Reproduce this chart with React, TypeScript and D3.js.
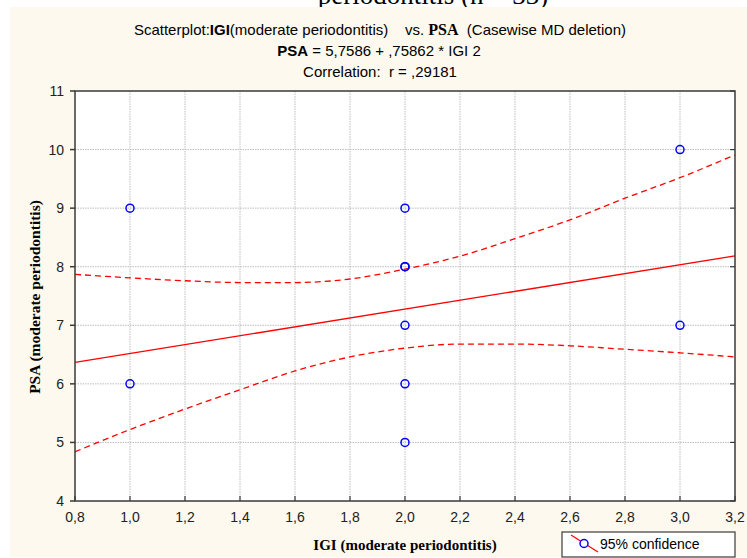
import React from "react";
import * as d3 from "d3";

// observed points (IGI, PSA)
const igi = [1, 1, 2, 2, 2, 2, 2, 2, 3, 3];
const psa = [9, 6, 9, 8, 8, 7, 6, 5, 10, 7];

// regression PSA = 5.7586 + 0.75862 * IGI
const intercept = 5.7586;
const slope = 0.75862;

// 95% confidence band
const bandX = [0.8, 1.0, 1.2, 1.4, 1.6, 1.8, 2.0, 2.2, 2.4, 2.6, 2.8, 3.0, 3.2];
const bandUpper = [7.87, 7.81, 7.76, 7.73, 7.73, 7.79, 7.96, 8.18, 8.48, 8.8, 9.17, 9.52, 9.91];
const bandLower = [4.84, 5.22, 5.57, 5.9, 6.22, 6.46, 6.61, 6.68, 6.68, 6.65, 6.59, 6.53, 6.46];

const xTicks = [0.8, 1.0, 1.2, 1.4, 1.6, 1.8, 2.0, 2.2, 2.4, 2.6, 2.8, 3.0, 3.2];
const yTicks = [4, 5, 6, 7, 8, 9, 10, 11];

const W = 747;
const H = 558;
const left = 75;
const right = 735;
const top = 91;
const bottom = 501;

const sans = "'Liberation Sans', Arial, sans-serif";
const serif = "'Liberation Serif', 'Times New Roman', serif";

export default function App() {
  const x = d3.scaleLinear().domain([0.8, 3.2]).range([left, right]);
  const y = d3.scaleLinear().domain([4, 11]).range([bottom, top]);

  const fmt = (v: number) => v.toFixed(1).replace(".", ",");

  const regLine = d3
    .line<number>()
    .x((d) => x(d))
    .y((d) => y(intercept + slope * d))([0.8, 3.2]);

  const bandLine = d3
    .line<[number, number]>()
    .x((d) => x(d[0]))
    .y((d) => y(d[1]))
    .curve(d3.curveMonotoneX);

  const upperPath = bandLine(bandX.map((v, i) => [v, bandUpper[i]]));
  const lowerPath = bandLine(bandX.map((v, i) => [v, bandLower[i]]));

  const pre = { whiteSpace: "pre" as const };

  return (
    <svg
      width={W}
      height={H}
      style={{ position: "absolute", left: 0, top: 0 }}
    >
      <rect x={0} y={0} width={W} height={H} fill="#fff" />
      <text
        x={433}
        y={4}
        textAnchor="middle"
        fontFamily={serif}
        fontSize={27}
        fill="#000"
      >
        periodontitis (n = 33)
      </text>
      <rect x={10} y={7} width={W - 10} height={550} fill="#fdf9ee" />

      {/* header */}
      <text x={380} y={35} textAnchor="middle" fontFamily={sans} fontSize={15} fill="#000" style={pre}>
        Scatterplot:<tspan fontWeight="bold">IGI</tspan>
        <tspan>(moderate periodontitis)    vs. </tspan>
        <tspan fontFamily={serif} fontWeight="bold" fontSize={16}>PSA</tspan>
        <tspan>  (Casewise MD deletion)</tspan>
      </text>
      <text x={379} y={56} textAnchor="middle" fontFamily={sans} fontSize={15} fill="#000" style={pre}>
        <tspan fontWeight="bold">PSA</tspan> = 5,7586 + ,75862 * IGI 2
      </text>
      <text x={380} y={77} textAnchor="middle" fontFamily={sans} fontSize={15} fill="#000" style={pre}>
        Correlation:  r = ,29181
      </text>

      {/* plot area */}
      <rect x={left} y={top} width={right - left} height={bottom - top} fill="#fff" />

      {xTicks.slice(1, -1).map((t) => (
        <line key={"gx" + t} x1={x(t)} x2={x(t)} y1={top} y2={bottom} stroke="#bdbdbd" strokeDasharray="1.5,1" />
      ))}
      {yTicks.slice(1, -1).map((t) => (
        <line key={"gy" + t} x1={left} x2={right} y1={y(t)} y2={y(t)} stroke="#bdbdbd" strokeDasharray="1.5,1" />
      ))}

      {/* confidence band and fit */}
      <path d={upperPath || ""} fill="none" stroke="#ff0000" strokeWidth={1.3} strokeDasharray="6,4" />
      <path d={lowerPath || ""} fill="none" stroke="#ff0000" strokeWidth={1.3} strokeDasharray="6,4" />
      <path d={regLine || ""} fill="none" stroke="#ff0000" strokeWidth={1.3} />

      {igi.map((v, i) => (
        <circle key={"p" + i} cx={x(v)} cy={y(psa[i])} r={4} fill="none" stroke="#0000ff" strokeWidth={1.5} />
      ))}

      {/* frame and ticks */}
      <rect x={left} y={top} width={right - left} height={bottom - top} fill="none" stroke="#3a3a3a" strokeWidth={1.5} />
      {yTicks.map((t) => (
        <g key={"ty" + t}>
          <line x1={left - 5} x2={left} y1={y(t)} y2={y(t)} stroke="#3a3a3a" strokeWidth={1.5} />
          <line x1={right - 5} x2={right} y1={y(t)} y2={y(t)} stroke="#3a3a3a" strokeWidth={1.2} />
          <text x={left - 11} y={y(t) + 5} textAnchor="end" fontFamily={sans} fontSize={14} fill="#222">
            {t}
          </text>
        </g>
      ))}
      {xTicks.map((t) => (
        <g key={"tx" + t}>
          <line x1={x(t)} x2={x(t)} y1={bottom} y2={bottom - 5} stroke="#3a3a3a" strokeWidth={1.2} />
          <text x={x(t)} y={bottom + 21} textAnchor="middle" fontFamily={sans} fontSize={14} fill="#222">
            {fmt(t)}
          </text>
        </g>
      ))}

      {/* axis titles */}
      <text
        transform="translate(40,297) rotate(-90)"
        textAnchor="middle"
        fontFamily={serif}
        fontWeight="bold"
        fontSize={15.5}
        fill="#000"
      >
        PSA (moderate periodontitis)
      </text>
      <text x={405} y={550} textAnchor="middle" fontFamily={serif} fontWeight="bold" fontSize={15} fill="#000">
        IGI (moderate periodontitis)
      </text>

      {/* legend */}
      <rect x={562} y={532} width={173} height={25} fill="#fff" stroke="#3a3a3a" strokeWidth={1.2} />
      <line x1={571} x2={598} y1={535} y2={552} stroke="#ff0000" strokeWidth={1.2} />
      <circle cx={584} cy={543.5} r={4} fill="#fff" stroke="#0000ff" strokeWidth={1.5} />
      <text x={600} y={549} fontFamily={sans} fontSize={14} fill="#000">
        95% confidence
      </text>
    </svg>
  );
}
